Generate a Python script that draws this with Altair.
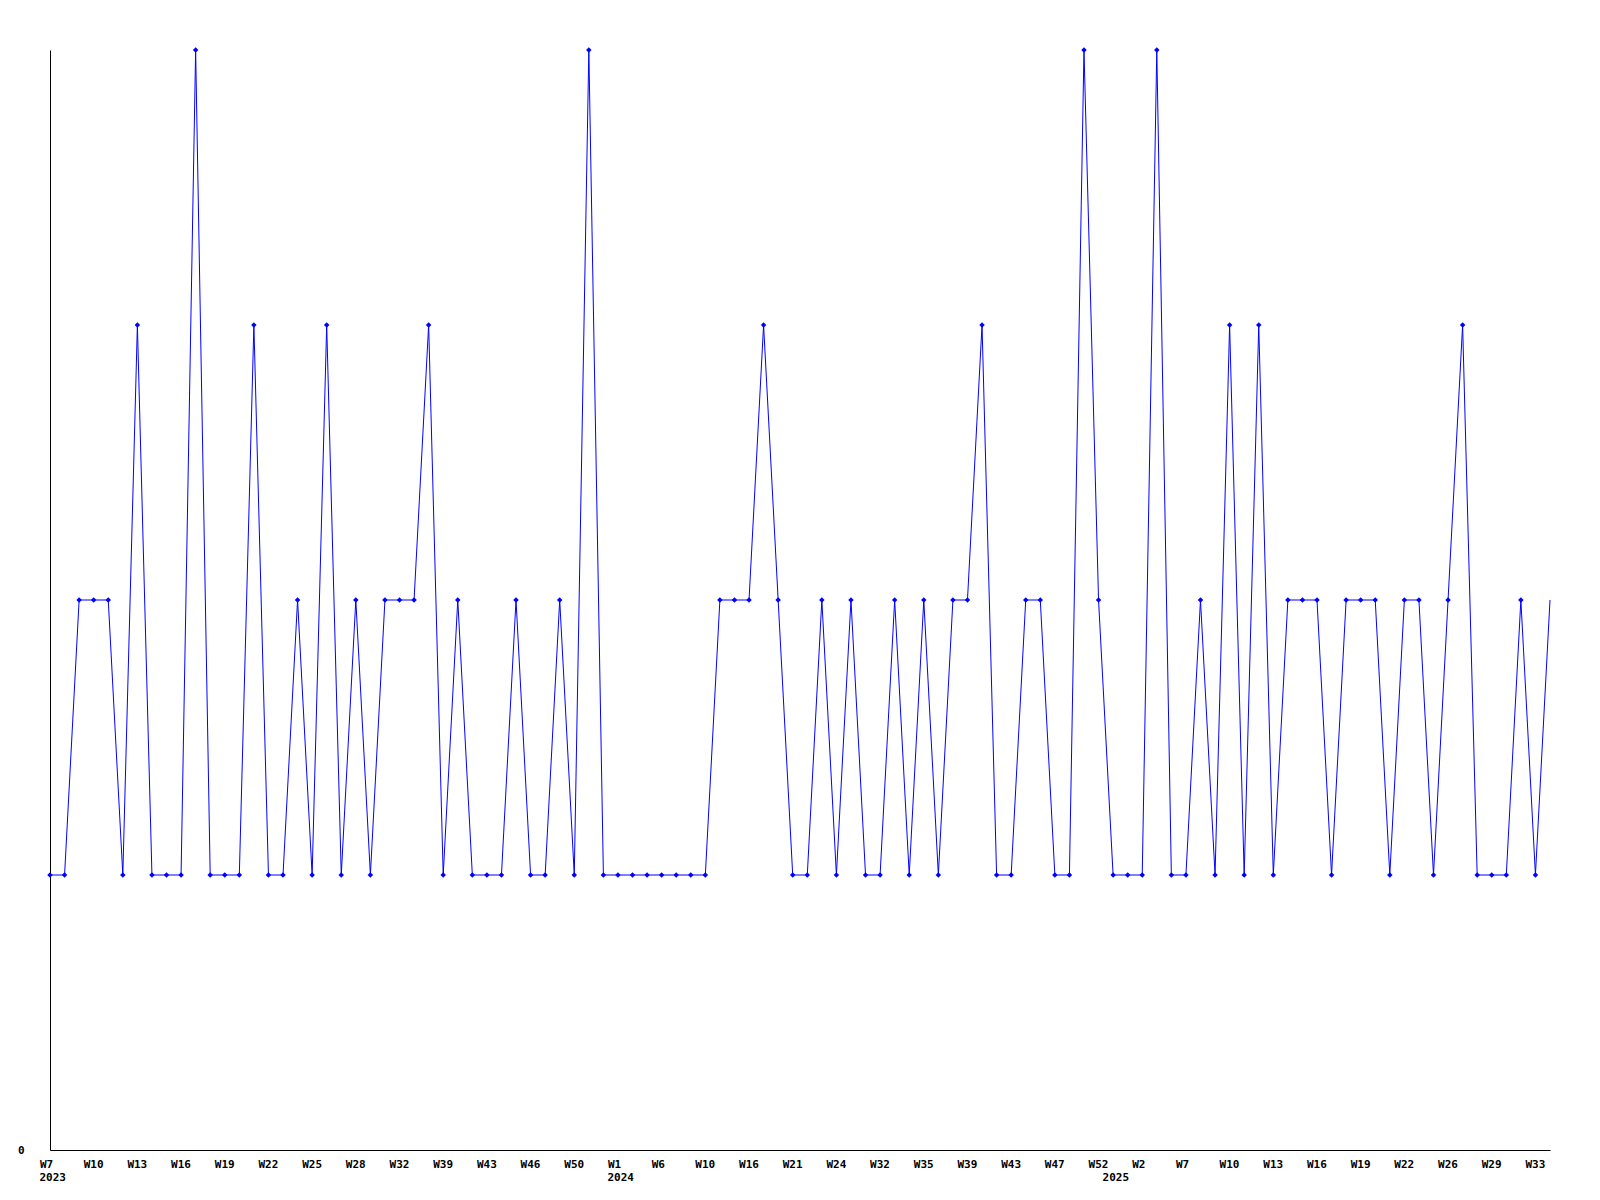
import altair as alt
import pandas as pd

# weekly values, one per point (left to right)
values = [1, 1, 2, 2, 2, 1, 3, 1, 1, 1, 4, 1, 1, 1, 3, 1, 1, 2, 1, 3,
          1, 2, 1, 2, 2, 2, 3, 1, 2, 1, 1, 1, 2, 1, 1, 2, 1, 4, 1, 1,
          1, 1, 1, 1, 1, 1, 2, 2, 2, 3, 2, 1, 1, 2, 1, 2, 1, 1, 2, 1,
          2, 1, 2, 2, 3, 1, 1, 2, 2, 1, 1, 4, 2, 1, 1, 1, 4, 1, 1, 2,
          1, 3, 1, 3, 1, 2, 2, 2, 1, 2, 2, 2, 1, 2, 2, 1, 2, 3, 1, 1,
          1, 2, 1, 2]

# tick labels shown on every third point
week_labels = ["W7", "W10", "W13", "W16", "W19", "W22", "W25", "W28", "W32",
               "W39", "W43", "W46", "W50", "W1", "W6", "W10", "W16", "W21",
               "W24", "W32", "W35", "W39", "W43", "W47", "W52", "W2", "W7",
               "W10", "W13", "W16", "W19", "W22", "W26", "W29", "W33"]
label_step = 3

# year markers: year and the point index where it starts
years = ["2023", "2024", "2025"]
year_start = [0, 39, 73]

n = len(values)
df = pd.DataFrame({"i": list(range(n)), "v": values})
ydf = pd.DataFrame({"i": year_start, "year": years})

FONT = "DejaVu Sans Mono"
BLUE = "#0000ff"

label_arr = "[" + ",".join('"%s"' % s for s in week_labels) + "]"
tick_vals = [k * label_step for k in range(len(week_labels))]

xscale = alt.Scale(domain=[0, n - 1], nice=False, zero=False, padding=0)
yscale = alt.Scale(domain=[0, 4], nice=False, zero=True)

x_enc = alt.X("i:Q", scale=xscale, title=None,
              axis=alt.Axis(values=tick_vals, labelExpr=label_arr + "[round(datum.value/3)]",
                            ticks=False, grid=False, domainColor="black", domainWidth=1,
                            labelAlign="left", labelOffset=-10.5, labelPadding=8,
                            labelFont=FONT, labelFontSize=11, labelFontWeight="bold",
                            labelColor="black", labelOverlap=False, labelFlush=False))
y_enc = alt.Y("v:Q", scale=yscale, title=None,
              axis=alt.Axis(values=[0], format="d", ticks=False, grid=False,
                            domainColor="black", domainWidth=1, labelPadding=26,
                            labelFont=FONT, labelFontSize=11, labelFontWeight="bold",
                            labelColor="black"))

line = alt.Chart(df).mark_line(color=BLUE, strokeWidth=1).encode(x=x_enc, y=y_enc)
pts = alt.Chart(df).transform_filter(f"datum.i < {n - 1}").mark_point(
    shape="diamond", filled=True, color=BLUE, size=30, opacity=1
).encode(x=alt.X("i:Q", scale=xscale), y=alt.Y("v:Q", scale=yscale))

yr = alt.Chart(ydf).mark_text(
    align="left", baseline="top", dx=-10.5, font=FONT, fontSize=11,
    fontWeight="bold", color="black"
).encode(x=alt.X("i:Q", scale=xscale), y=alt.value(1122), text="year:N")

chart = alt.layer(line, pts, yr).properties(
    width=1500, height=1100,
    autosize=alt.AutoSizeParams(type="none"),
    padding={"left": 42, "top": 42, "right": 42, "bottom": 42},
).configure_view(stroke=None)

chart.save("out.html", embed_options={"renderer": "svg", "actions": False})
